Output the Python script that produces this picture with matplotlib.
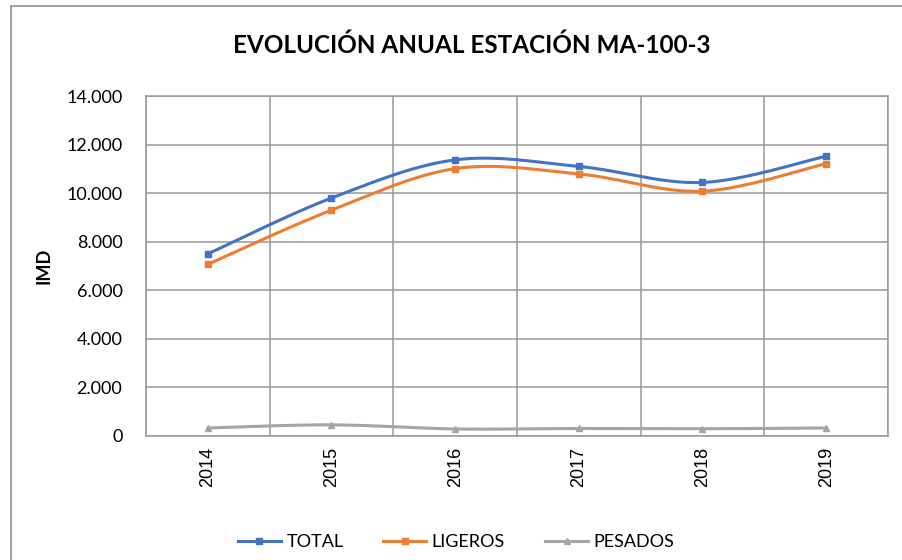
import numpy as np
import matplotlib
matplotlib.use('Agg')
import matplotlib.pyplot as plt
from matplotlib.ticker import FuncFormatter, MultipleLocator
from matplotlib.patches import Rectangle

plt.rcParams['font.family'] = ['Lato', 'DejaVu Sans']

years = ['2014', '2015', '2016', '2017', '2018', '2019']
total = [7500, 9800, 11370, 11100, 10440, 11520]
ligeros = [7070, 9300, 11010, 10790, 10080, 11220]
pesados = [330, 460, 290, 310, 300, 330]

series = [
    ('TOTAL', total, '#4472C4', 's'),
    ('LIGEROS', ligeros, '#ED7D31', 's'),
    ('PESADOS', pesados, '#A5A5A5', '^'),
]


def smooth(x, y, steps=30):
    # bezier segments with control points from neighbouring points
    x = np.asarray(x, float)
    y = np.asarray(y, float)
    px = np.concatenate([[x[0]], x, [x[-1]]])
    py = np.concatenate([[y[0]], y, [y[-1]]])
    xs, ys = [], []
    t = np.linspace(0, 1, steps)
    for i in range(1, len(px) - 2):
        p0 = np.array([px[i], py[i]])
        p3 = np.array([px[i + 1], py[i + 1]])
        c1 = p0 + (p3 - np.array([px[i - 1], py[i - 1]])) / 6.0
        c2 = p3 - (np.array([px[i + 2], py[i + 2]]) - p0) / 6.0
        pts = ((1 - t) ** 3)[:, None] * p0 + (3 * (1 - t) ** 2 * t)[:, None] * c1 \
            + (3 * (1 - t) * t ** 2)[:, None] * c2 + (t ** 3)[:, None] * p3
        xs.extend(pts[:, 0])
        ys.extend(pts[:, 1])
    return xs, ys


fig = plt.figure(figsize=(9.03, 5.6), dpi=100)
ax = fig.add_axes([146 / 903, 1 - 436 / 560, (888 - 146) / 903, (436 - 96) / 560])

xpos = np.arange(len(years))
handles = []
for name, vals, color, marker in series:
    sx, sy = smooth(xpos, vals)
    ax.plot(sx, sy, color=color, lw=2.2, solid_capstyle='round', zorder=3)
    ax.plot(xpos, vals, ls='none', marker=marker, ms=5, color=color, zorder=4)
    h, = ax.plot([], [], color=color, lw=2.2, marker=marker, ms=4.5, label=name)
    handles.append(h)

ax.set_xlim(-0.5, len(years) - 0.5)
ax.set_ylim(0, 14000)
ax.yaxis.set_major_locator(MultipleLocator(2000))
ax.yaxis.set_major_formatter(FuncFormatter(lambda v, p: f"{int(v):,}".replace(',', '.')))
ax.set_xticks(xpos)
ax.set_xticklabels(years, rotation=90, family=['Liberation Sans', 'DejaVu Sans'])
ax.set_xticks(np.arange(-0.5, len(years)), minor=True)

ax.grid(True, which='major', axis='y', color='#999999', lw=1.1)
ax.grid(True, which='minor', axis='x', color='#999999', lw=1.1)
ax.tick_params(axis='both', which='both', length=0, labelsize=13, colors='#000000')
ax.tick_params(axis='y', pad=17)
ax.tick_params(axis='x', pad=8)
for s in ax.spines.values():
    s.set_color('#999999')
    s.set_linewidth(1.1)

ax.set_ylabel('IMD', fontsize=13, fontweight='bold', labelpad=10)
fig.text(472 / 903, 1 - 45 / 560, 'EVOLUCIÓN ANUAL ESTACIÓN MA-100-3',
         ha='center', va='center', fontsize=17.5, fontweight='bold')

fig.legend(handles=handles, loc='center', bbox_to_anchor=(456 / 903, 1 - 542 / 560),
           ncol=3, frameon=False, fontsize=13, handlelength=2.4, columnspacing=2.2,
           handletextpad=0.3)

# outer chart frame
fig.patches.append(Rectangle((11 / 903, -0.1), 1.1, 1 - 6 / 560 + 0.1,
                             transform=fig.transFigure, fill=False,
                             edgecolor='#999999', lw=1.3))

fig.savefig('out.png', dpi=100)
